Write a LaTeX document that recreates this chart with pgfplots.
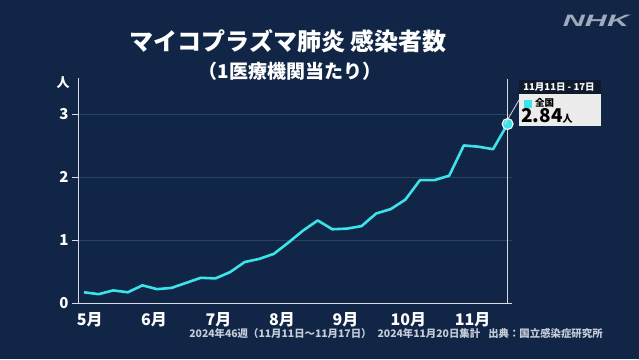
\documentclass[border=0pt]{standalone}
\usepackage{pgfplots}
\pgfplotsset{compat=1.18}
\usepackage{fontspec}
\setmainfont{Noto Sans CJK JP}
\newfontfamily\nhkfont{Liberation Sans}
\definecolor{bg}{HTML}{112646}
\definecolor{cy}{HTML}{3CE3E8}
\definecolor{gridc}{HTML}{2C4263}
\definecolor{axc}{HTML}{D8DCE2}
\definecolor{foot}{HTML}{C4CCD8}
\definecolor{nhk}{HTML}{A0AABB}
\definecolor{tipdark}{HTML}{0F1A2C}
\definecolor{tiplight}{HTML}{ECECEC}
\pgfplotstableread{
w v
17 0.17
18 0.14
19 0.20
20 0.17
21 0.28
22 0.22
23 0.24
24 0.32
25 0.40
26 0.39
27 0.49
28 0.65
29 0.70
30 0.78
31 0.96
32 1.15
33 1.31
34 1.17
35 1.18
36 1.22
37 1.42
38 1.49
39 1.64
40 1.95
41 1.95
42 2.02
43 2.50
44 2.48
45 2.44
46 2.84
}\mydata
\begin{document}
\begin{tikzpicture}[x=1pt,y=1pt]
\fill[bg] (0,0) rectangle (639,359);
% title
\node[text=white,font=\fontsize{24}{26}\selectfont\bfseries,anchor=center] at (288,318) {マイコプラズマ肺炎 感染者数};
\node[text=white,font=\fontsize{19}{21}\selectfont\bfseries,anchor=center] at (290,288) {（1医療機関当たり）};
% NHK logo
\node[text=nhk,font=\fontsize{16.5}{18}\selectfont\nhkfont\bfseries\itshape,anchor=center,xscale=1.85] at (596,338) {NHK};
% y unit
\node[text=white,font=\fontsize{13}{14}\selectfont\bfseries] at (63,276) {人};
\begin{axis}[
  at={(78pt,56pt)}, anchor=south west,
  scale only axis, width=434pt, height=225pt,
  xmin=16.59, xmax=46.3, ymin=0, ymax=3.57,
  axis line style={axc, line width=1pt},
  axis x line*=bottom, axis y line*=left,
  ytick={0,1,2,3}, yticklabels={0,1,2,3},
  yticklabel style={text=white,font=\fontsize{15}{16}\selectfont\bfseries},
  xtick={17.4,21.8,26.2,30.55,34.9,39.2,43.6},
  xticklabels={5月,6月,7月,8月,9月,10月,11月},
  xticklabel style={text=white,font=\fontsize{16}{17}\selectfont\bfseries},
  tick align=outside,
  major tick length=6pt,
  ytick style={draw=axc, line width=0.8pt},
  xtick style={draw=none},
  ymajorgrids, grid style={gridc, line width=0.8pt},
  clip=false,
]
\addplot[axc, line width=0.8pt] coordinates {(46,0) (46,3.55)};
\addplot[cy, line width=2.6pt, line join=round] table[x=w,y=v] {\mydata};
\addplot[only marks, mark=*, mark size=5.5pt, mark options={fill=cy, draw=white, line width=1pt}] coordinates {(46,2.84)};
\end{axis}
% tooltip
\draw[axc, line width=0.8pt] (505,235) -- (519,259);
\fill[tipdark] (519,265) rectangle (601,279);
\node[text=white,font=\fontsize{9.5}{10}\selectfont\bfseries] at (559,272) {11月11日 - 17日};
\fill[tiplight] (519,233) rectangle (601,265);
\fill[cy] (524,251) rectangle (532,259);
\node[text=black,font=\fontsize{9.5}{10}\selectfont\bfseries,anchor=west,inner sep=1pt] at (534,256) {全国};
\node[text=black,anchor=base west,inner sep=0pt] at (521,236) {\fontsize{19}{20}\selectfont\bfseries 2.84\fontsize{10}{11}\selectfont 人};
% footer
\node[text=foot,font=\fontsize{10.4}{11}\selectfont\bfseries,anchor=center] at (396,25) {2024年46週（11月11日～11月17日）\hspace{6pt}2024年11月20日集計\hspace{8pt}出典：国立感染症研究所};
\end{tikzpicture}
\end{document}
